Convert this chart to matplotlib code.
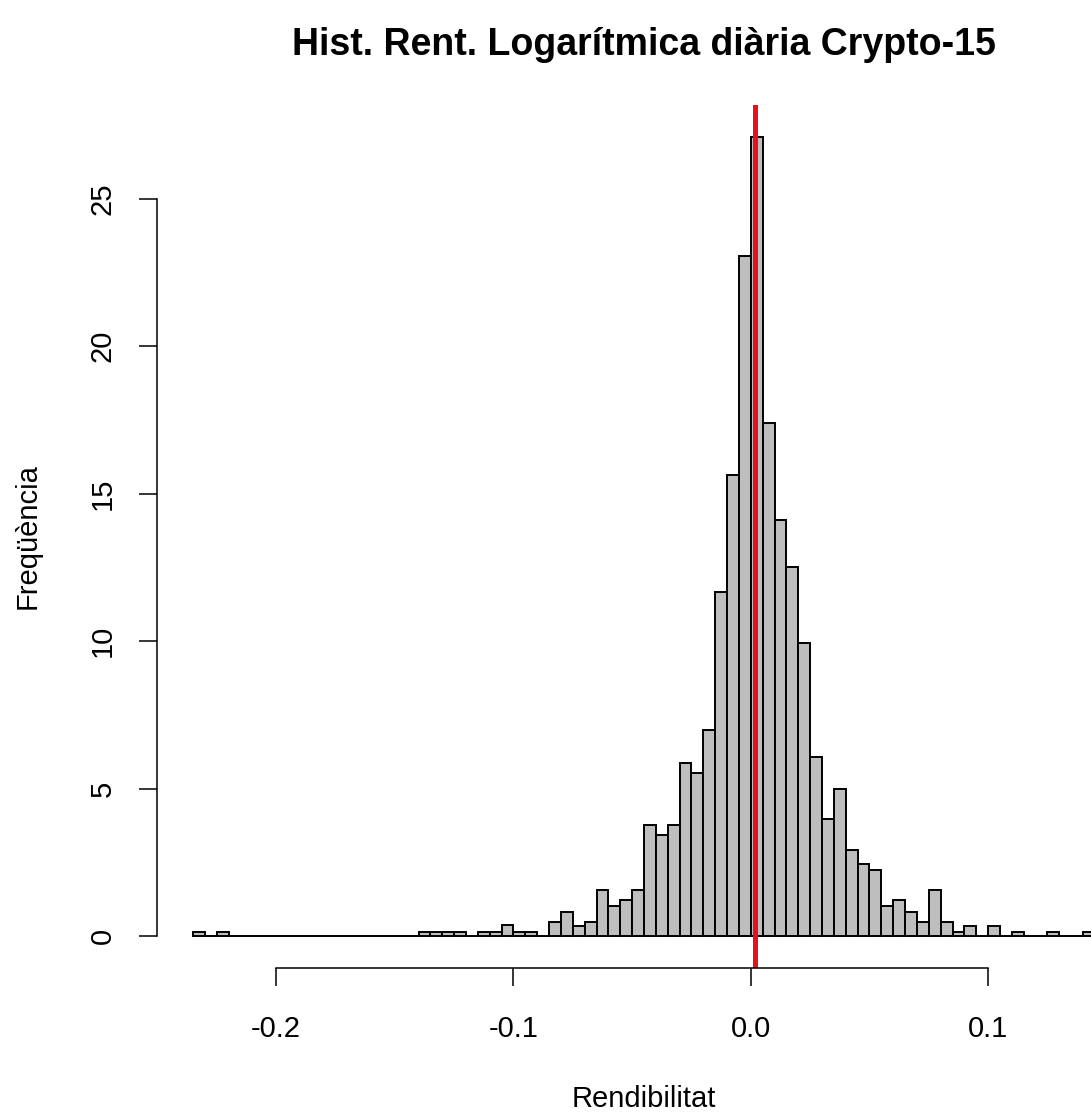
import matplotlib

matplotlib.use("Agg")
import matplotlib.pyplot as plt
import numpy as np

plt.rcParams["font.family"] = ["Liberation Sans", "DejaVu Sans"]

# histogram (density) of daily log returns, bins of 0.005
bin_start = -0.235
bin_width = 0.005
density = [
    0.14, 0, 0.14,
    0, 0, 0, 0, 0, 0, 0, 0, 0, 0, 0, 0, 0, 0, 0, 0,
    0.14, 0.14, 0.14, 0.14, 0, 0.14, 0.14, 0.36, 0.14, 0.14, 0,
    0.48, 0.82, 0.34, 0.48, 1.55, 1.02, 1.22, 1.55,
    3.77, 3.43, 3.77, 5.87, 5.53, 6.97, 11.67, 15.62, 23.06,
    27.1, 17.39, 14.1, 12.53, 9.95, 6.08, 3.98, 4.98, 2.92, 2.43, 2.24,
    1.02, 1.22, 0.82, 0.48, 1.55, 0.48, 0.14, 0.34, 0, 0.34, 0, 0.14,
    0, 0, 0.14, 0, 0, 0.14,
]
mean_ret = 0.0017
x_ticks = [-0.2, -0.1, 0.0, 0.1]
y_ticks = [0, 5, 10, 15, 20, 25]

edges = bin_start + bin_width * np.arange(len(density))

fig = plt.figure(figsize=(10.91, 11.17), dpi=100)
ax = fig.add_axes([157 / 1091, 0.1334, (1131 - 157) / 1091, 0.7726])

ax.bar(edges, density, width=bin_width, align="edge",
       color="#BEBEBE", edgecolor="black", linewidth=1.4)
ax.axvline(mean_ret, color="#E8111A", linewidth=3.6)

ax.set_xlim(-0.2502, 0.1602)
ax.set_ylim(-1.084, 28.18)

for s in ["top", "right"]:
    ax.spines[s].set_visible(False)
ax.spines["left"].set_bounds(0, 25)
ax.spines["bottom"].set_bounds(-0.2, 0.1)
ax.spines["left"].set_linewidth(1.1)
ax.spines["bottom"].set_linewidth(1.1)

ax.set_xticks(x_ticks)
ax.set_xticklabels(["-0.2", "-0.1", "0.0", "0.1"])
ax.set_yticks(y_ticks)
ax.set_yticklabels([str(v) for v in y_ticks])
ax.tick_params(axis="both", direction="out", length=13, width=1.1,
               labelsize=21, colors="black")
ax.tick_params(axis="x", pad=21)
ax.tick_params(axis="y", pad=16)
for lab in ax.get_yticklabels():
    lab.set_rotation(90)
    lab.set_va("center")

ax.set_xlabel("Rendibilitat", fontsize=21, labelpad=30)
ax.set_ylabel("Freqüència", fontsize=21, labelpad=34)
ax.set_title("Hist. Rent. Logarítmica diària Crypto-15",
             fontsize=27, fontweight="bold", pad=36)

fig.savefig("out.png", dpi=100)
